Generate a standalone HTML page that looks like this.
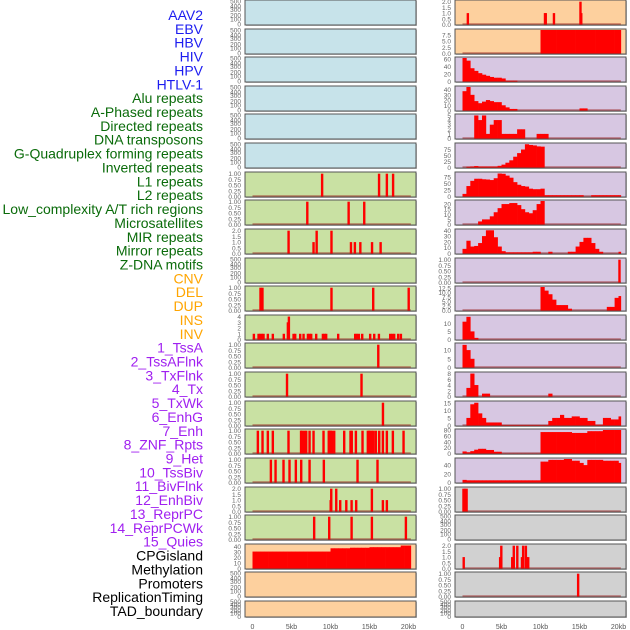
<!DOCTYPE html>
<html><head><meta charset="utf-8"><style>
html,body{margin:0;padding:0;background:#fff;}
svg{display:block;font-family:"Liberation Sans",sans-serif;}
</style></head><body>
<svg id="chart" width="630" height="630" viewBox="0 0 630 630" xmlns="http://www.w3.org/2000/svg"></svg>
<script>
// ---- labels ----
const labelNames=["AAV2","EBV","HBV","HIV","HPV","HTLV-1","Alu repeats","A-Phased repeats","Directed repeats","DNA transposons","G-Quadruplex forming repeats","Inverted repeats","L1 repeats","L2 repeats","Low_complexity A/T rich regions","Microsatellites","MIR repeats","Mirror repeats","Z-DNA motifs","CNV","DEL","DUP","INS","INV","1_TssA","2_TssAFlnk","3_TxFlnk","4_Tx","5_TxWk","6_EnhG","7_Enh","8_ZNF_Rpts","9_Het","10_TssBiv","11_BivFlnk","12_EnhBiv","13_ReprPC","14_ReprPCWk","15_Quies","CPGisland","Methylation","Promoters","ReplicationTiming","TAD_boundary"];
const labelGroups=[6,13,5,15,5];
const groupColors=["#1c1cf0","#0a6b0a","#ffa500","#a020f0","#000000"];
const xTickVals=[0,5,10,15,20];
const xTickLabels=["0","5kb","10kb","15kb","20kb"];

// ---- bar data (kb position, height) ----
const aluX=[8.9,16.2,17.2,18.0], aluH=[1,1,1,1];
const aphX=[7.0,12.3,14.3], aphH=[1,1,1];
const dirX=[4.6,7.8,8.2,10.1,12.6,13.1,13.8,15.3,16.4], dirH=[2,1,2,2,1,1,1,1,1];
const gquX=[1.0,1.25,10.1,15.45,20.0], gquH=[1,1,1,1,1];
const invX=[0.15,0.75,0.96,1.18,1.39,1.94,2.58,3.99,4.51,4.64,5.24,5.45,6.09,6.52,7.08,7.29,7.5,8.14,9.0,9.21,9.42,10.96,13.14,13.35,13.61,14.04,15.06,15.58,16.18,17.63,17.88,18.14,18.65,19.0];
const invH=[1,1,1,1,1,1,1,1,3,4,1,1,1,1,1,1,1,1,1,1,1,1,1,1,1,1,1,1,1,1,1,1,1,1];
const l1X=[16.1], l1H=[1];
const l2X=[4.4,13.95], l2H=[1,1];
const lowX=[16.7], lowH=[1];
const micX=[0.66,1.26,1.94,2.58,4.59,6.2,6.3,6.6,6.86,7.29,7.8,9.08,9.75,9.85,10.0,10.15,10.45,11.73,12.54,12.7,13.23,14.08,14.76,14.9,15.06,15.28,15.49,15.79,16.22,16.69,17.2,17.97,19.34];
const micH=micX.map(()=>1);
const mirX=[2.33,2.93,3.95,4.72,5.53,6.22,7.29,9.12,13.44,16.0], mirH=[1,1,1,1,1,1,1,1,1,1];
const mrrX=[10.0,10.07,10.71,11.22,12.0,12.68,13.27,15.28,16.69,17.2], mrrH=[1,2,2,1,1,1,1,2,1,1];
const zdnX=[7.88,9.81,12.68,15.28,19.64], zdnH=[1,1,1,1,1];
const insX=[0.66,10.55,10.65,11.7,15.1,15.2], insH=[1,1,1,1,2,1];
const znfX=[20.1], znfH=[1];
const cpgX=[0.1,0.3,0.5], cpgH=[1,1,1];
const proX=[0.13,4.8,4.95,6.35,6.55,7.0,7.6,7.75,8.1,8.2,8.4], proH=[1,1,2,1,2,2,1,2,2,1,1];
const repX=[14.8], repH=[1];

// ---- profile data (0.5kb bins from 0kb) ----
const cnvP=[31,31,31,31,31,31,31,31,31,31,31,31,31,31,31,31,31,31,31,31,37,37,37,37,37,38,38,38,38,38,39,39,39,39,39,39,39,39,42,42,42];
const invP=[0,0,0,0,0,0,0,0,0,0,0,0,0,0,0,0,0,0,0,0,9.4,9.4,9.4,9.4,9.4,9.4,9.4,9.4,9.4,9.4,9.4,9.4,9.4,9.4,9.4,9.4,9.4,9.4,9.4,9.4,9.4];
const tssaP=[62,55,35,28,22,18,15,12,10,10,8,2,2,2];
const flnkP=[37,45,30,18,14,17,20,18,16,16,10,6,3,3,0,0,0,0,0,0,0,0,0,0,0,0,0,0,0,0,4,4];
const txfP=[0,0,0,5,4,5,1,3,4,4,1,1,1,1,2,2,0,0,0,1,1,1];
const txP=[0,3,4,6,4,4,4,4,4,7,12,20,30,45,60,75,97,94,92,88,87];
const txwkP=[10,40,60,68,68,66,65,63,70,88,87,80,72,55,45,40,38,30,28,28,30,5,5,5,5,5,5,5,5,5,5,0,0,5,5,5,5,5,5,5,5];
const enhgP=[0,0,0,0,3,5,5,8,12,16,20,20,21,21,19,15,12,11,14,20,23];
const enhP=[8,22,12,13,18,30,40,40,28,12,4,2,2,2,2,2,2,2,3,3,0,0,3,0,0,0,0,3,3,12,20,27,27,18,8,3,0,0,0,0,3];
const hetP=[0,0,0,0,0,0,0,0,0,0,0,0,0,0,0,0,0,0,0,0,13,11,9,6,3,3,3,1,0,0,0,0,0,0,0,0,0,2,2,7,8];
const tbivP=[11,14,5,1];
const bflkP=[13,10,5];
const ebivP=[0,3,8,4,0,1,1,0,0,0,0,0,0,0,0,0,0,0,0,0,0,0,1];
const rpcP=[0,5,14,15,8,5,2,2,2,2,0.3,0.3,0.3,0.3,0.3,0.3,0.3,0.3,0.3,0.3,0.3,0.3,3,5,5,7,5,5,6,6,5,5,3,3,0.5,0.5,5,5,4,4,6];
const rpcwP=[7,4,8,13,16,16,12,12,6,6,0.5,0.5,0.5,0.5,0.5,0.5,0.5,0.5,0.5,0.5,73,73,73,73,73,73,73,73,70,70,70,70,76,76,76,76,80,80,80,80,80];
const quiP=[6,5,5,5,5,5,5,5,5,5,5,5,5,5,5,5,5,5,5,5,48,48,52,52,52,52,54,54,50,50,45,40,52,52,52,52,50,50,50,50,45];

const SQ=["500","400","300","200","100","0"];
const T1=["0.00","0.25","0.50","0.75","1.00"];
// panel spec: [col,row,bg,tickVals,tickLabels,ymax,kind,xs,hs]
const BLUE="#c7e3ea",GREEN="#c9e1a3",ORANGE="#fdd09e",PURPLE="#d7c7e2",GRAY="#d1d1d1";
const panels=[
 [0,0,BLUE,null,SQ,1,"empty"],[0,1,BLUE,null,SQ,1,"empty"],[0,2,BLUE,null,SQ,1,"empty"],
 [0,3,BLUE,null,SQ,1,"empty"],[0,4,BLUE,null,SQ,1,"empty"],[0,5,BLUE,null,SQ,1,"empty"],
 [0,6,GREEN,[0,.25,.5,.75,1],T1,1.03,"bars",aluX,aluH],
 [0,7,GREEN,[0,.25,.5,.75,1],T1,1.03,"bars",aphX,aphH],
 [0,8,GREEN,[0,.5,1,1.5,2],["0.0","0.5","1.0","1.5","2.0"],2.06,"bars",dirX,dirH],
 [0,9,GREEN,null,SQ,1,"empty"],
 [0,10,GREEN,[0,.25,.5,.75,1],T1,1.03,"bars",gquX,gquH],
 [0,11,GREEN,[0,1,2,3,4],["0","1","2","3","4"],4.1,"bars",invX,invH],
 [0,12,GREEN,[0,.25,.5,.75,1],T1,1.03,"bars",l1X,l1H],
 [0,13,GREEN,[0,.25,.5,.75,1],T1,1.03,"bars",l2X,l2H],
 [0,14,GREEN,[0,.25,.5,.75,1],T1,1.03,"bars",lowX,lowH],
 [0,15,GREEN,[0,.25,.5,.75,1],T1,1.03,"bars",micX,micH],
 [0,16,GREEN,[0,.25,.5,.75,1],T1,1.03,"bars",mirX,mirH],
 [0,17,GREEN,[0,.5,1,1.5,2],["0.0","0.5","1.0","1.5","2.0"],2.06,"bars",mrrX,mrrH],
 [0,18,GREEN,[0,.25,.5,.75,1],T1,1.03,"bars",zdnX,zdnH],
 [0,19,ORANGE,[0,10,20,30,40],["0","10","20","30","40"],43,"prof",cnvP],
 [0,20,ORANGE,null,SQ,1,"empty"],[0,21,ORANGE,null,SQ,1,"empty"],
 [1,0,ORANGE,[0,.5,1,1.5,2],["0.0","0.5","1.0","1.5","2.0"],2.06,"bars",insX,insH],
 [1,1,ORANGE,[0,2.5,5,7.5],["0.0","2.5","5.0","7.5"],9.4,"prof",invP],
 [1,2,PURPLE,[0,20,40,60],["0","20","40","60"],62,"prof",tssaP],
 [1,3,PURPLE,[0,10,20,30,40],["0","10","20","30","40"],45,"prof",flnkP],
 [1,4,PURPLE,[0,1,2,3,4,5],["0","1","2","3","4","5"],5.1,"prof",txfP],
 [1,5,PURPLE,[0,25,50,75],["0","25","50","75"],98,"prof",txP],
 [1,6,PURPLE,[0,25,50,75],["0","25","50","75"],90,"prof",txwkP],
 [1,7,PURPLE,[0,5,10,15,20],["0","5","10","15","20"],23,"prof",enhgP],
 [1,8,PURPLE,[0,10,20,30,40],["0","10","20","30","40"],40.5,"prof",enhP],
 [1,9,PURPLE,[0,.25,.5,.75,1],T1,1.03,"bars",znfX,znfH],
 [1,10,PURPLE,[0,2.5,5,7.5,10,12.5],["0.0","2.5","5.0","7.5","10.0","12.5"],13,"prof",hetP],
 [1,11,PURPLE,[0,5,10],["0","5","10"],14.5,"prof",tbivP],
 [1,12,PURPLE,[0,5,10],["0","5","10"],13.5,"prof",bflkP],
 [1,13,PURPLE,[0,2,4,6,8],["0","2","4","6","8"],8.2,"prof",ebivP],
 [1,14,PURPLE,[0,5,10,15],["0","5","10","15"],15.5,"prof",rpcP],
 [1,15,PURPLE,[0,20,40,60,80],["0","20","40","60","80"],80,"prof",rpcwP],
 [1,16,PURPLE,[0,20,40],["0","20","40"],54,"prof",quiP],
 [1,17,GRAY,[0,.25,.5,.75,1],T1,1.03,"bars",cpgX,cpgH],
 [1,18,GRAY,null,SQ,1,"empty"],
 [1,19,GRAY,[0,.5,1,1.5,2],["0.0","0.5","1.0","1.5","2.0"],2.06,"bars",proX,proH],
 [1,20,GRAY,[0,.25,.5,.75,1],T1,1.03,"bars",repX,repH],
 [1,21,GRAY,null,SQ,1,"empty"]
];

const NS="http://www.w3.org/2000/svg";
const svg=document.getElementById("chart");
function mk(tag,attrs,parent){const e=document.createElementNS(NS,tag);for(const k in attrs)e.setAttribute(k,attrs[k]);(parent||svg).appendChild(e);return e;}

// labels
let gi=0,gc=0;
labelNames.forEach((name,i)=>{
  while(gc>=labelGroups[gi]){gi++;gc=0;}
  gc++;
  const t=mk("text",{x:203,y:15+i*13.86+5,"text-anchor":"end","font-size":"14",fill:groupColors[gi]});
  t.textContent=name;
  
  
});

const colX=[245,455];
function rowTop(r){return Math.round(r*28.62);}
function rowH(r){return r===21?16:25;}
function xs(col,kb){return colX[col]+7.5+kb*7.8;}

panels.forEach(p=>{
  const [col,row,bg,tv,tl,ymax,kind]=p;
  const top=rowTop(row),h=rowH(row),x0=colX[col],w=171;
  const g=mk("g",{});
  
  
  mk("rect",{x:x0+1,y:top+1,width:w,height:h,fill:"#9a9a9a",opacity:0.6},g);
  mk("rect",{x:x0,y:top,width:w,height:h,fill:bg,stroke:"#555",'stroke-width':1},g);
  const ys=v=>top+h-0.5-(v/ymax)*(h-1.5);
  // ticks
  if(kind==="empty"){
    const offs=[0.04,0.23,0.37,0.59,0.76,0.96];
    tl.forEach((s,i)=>{const t=mk("text",{x:x0-4,y:top+offs[i]*h+2.5,"text-anchor":"end","font-size":"6.5",fill:"#666"},g);t.textContent=s;});
  } else {
    tv.forEach((v,i)=>{const t=mk("text",{x:x0-4,y:ys(v)+2.5,"text-anchor":"end","font-size":"6.5",fill:"#666"},g);t.textContent=tl[i];});
    mk("line",{x1:xs(col,0),x2:xs(col,20.3),y1:top+h-1,y2:top+h-1,stroke:"rgba(150,20,20,0.5)","stroke-width":1.5},g);
  }
  if(kind==="bars"){
    const X=p[7],H=p[8];
    X.forEach((kb,i)=>{
      const r=mk("rect",{x:xs(col,kb)-1,y:ys(H[i]),width:2.4,height:top+h-0.5-ys(H[i]),fill:"#ff0000"},g);
      
      
    });
  } else if(kind==="prof"){
    const P=p[7];
    P.forEach((v,i)=>{
      if(v<=0)return;
      const kb0=i*0.5,kb1=Math.min(20.3,kb0+0.5);
      const r=mk("rect",{x:xs(col,kb0),y:ys(v),width:xs(col,kb1)-xs(col,kb0)+0.3,height:top+h-0.5-ys(v),fill:"#ff0000"},g);
      
      
    });
  }
});

// x axes
[0,1].forEach(col=>{
  xTickVals.forEach((v,i)=>{
    const t=mk("text",{x:xs(col,v),y:629,"text-anchor":"middle","font-size":"7",fill:"#555"});
    t.textContent=xTickLabels[i];
    
    
  });
});
</script>
</body></html>
